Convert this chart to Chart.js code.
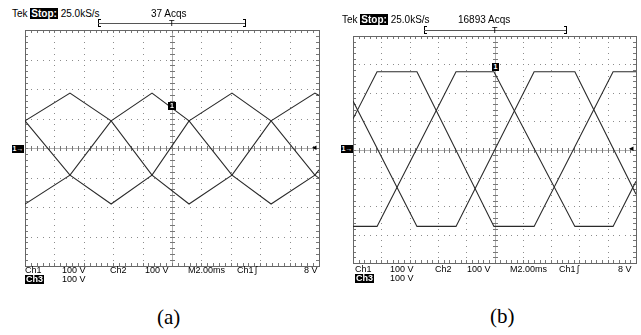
<!DOCTYPE html>
<html>
<head>
<meta charset="utf-8">
<script src="https://cdn.jsdelivr.net/npm/chart.js@4/dist/chart.umd.min.js"></script>
<style>
  html,body{margin:0;padding:0;background:#fff;}
  #wrap{position:relative;width:641px;height:335px;overflow:hidden;background:#fff;}
  canvas{position:absolute;}
  .t{position:absolute;font-family:"Liberation Sans",Arial,sans-serif;font-size:10px;line-height:10px;color:#000;white-space:pre;}
  .s{font-size:9px;line-height:9px;}
  .inv{background:#000;color:#fff;font-weight:bold;padding:0 1px;}
  .cap{position:absolute;font-family:"Liberation Serif","Times New Roman",serif;font-size:21px;line-height:21px;color:#000;}
  .ln{position:absolute;background:#000;}
  .mk{position:absolute;background:#000;color:#fff;font-family:"Liberation Sans",Arial,sans-serif;font-size:7px;line-height:8px;font-weight:bold;text-align:center;}
</style>
</head>
<body>
<div id="wrap">
  <canvas id="ca" width="304" height="246" style="left:20px;top:25px"></canvas>
  <canvas id="cb" width="293" height="237" style="left:348px;top:31px"></canvas>

  <!-- panel (a) header -->
  <div class="t" style="left:12px;top:9px">Tek <span class="inv">Stop:</span> 25.0kS/s</div>
  <div class="t" style="left:151px;top:9px">37 Acqs</div>
  <div class="ln" style="left:98px;top:19px;width:1px;height:8px"></div>
  <div class="ln" style="left:98px;top:19px;width:3px;height:1px"></div>
  <div class="ln" style="left:98px;top:26px;width:3px;height:1px"></div>
  <div class="ln" style="left:98px;top:23px;width:148px;height:1px;background:#555"></div>
  <div class="ln" style="left:245px;top:19px;width:1px;height:8px"></div>
  <div class="ln" style="left:243px;top:19px;width:3px;height:1px"></div>
  <div class="ln" style="left:243px;top:26px;width:3px;height:1px"></div>
  <div class="t s" style="left:169px;top:19px">T</div>

  <!-- panel (a) footer -->
  <div class="t s" style="left:25px;top:266px">Ch1</div>
  <div class="t s" style="left:62px;top:266px">100 V</div>
  <div class="t s" style="left:110px;top:266px">Ch2</div>
  <div class="t s" style="left:145px;top:266px">100 V</div>
  <div class="t s" style="left:188px;top:266px">M2.00ms</div>
  <div class="t s" style="left:237px;top:266px">Ch1</div>
  <div class="t s" style="left:255px;top:266px">ʃ</div>
  <div class="t s" style="left:304px;top:266px">8 V</div>
  <div class="t s inv" style="left:25px;top:275px">Ch3</div>
  <div class="t s" style="left:62px;top:275px">100 V</div>
  <div class="cap" style="left:157px;top:307px">(a)</div>

  <!-- panel (a) markers -->
  <div class="mk" style="left:12px;top:145px;width:12px;height:8px">1→</div>
  <div class="mk" style="left:168px;top:102px;width:8px;height:8px">1</div>
  <div class="t s" style="left:312px;top:143px">◂</div>

  <!-- panel (b) header -->
  <div class="t" style="left:342px;top:15px">Tek <span class="inv">Stop:</span> 25.0kS/s</div>
  <div class="t" style="left:458px;top:15px">16893 Acqs</div>
  <div class="ln" style="left:424px;top:26px;width:1px;height:8px"></div>
  <div class="ln" style="left:424px;top:26px;width:3px;height:1px"></div>
  <div class="ln" style="left:424px;top:33px;width:3px;height:1px"></div>
  <div class="ln" style="left:424px;top:30px;width:143px;height:1px;background:#555"></div>
  <div class="ln" style="left:566px;top:26px;width:1px;height:8px"></div>
  <div class="ln" style="left:564px;top:26px;width:3px;height:1px"></div>
  <div class="ln" style="left:564px;top:33px;width:3px;height:1px"></div>
  <div class="t s" style="left:492px;top:26px">T</div>

  <!-- panel (b) footer -->
  <div class="t s" style="left:355px;top:265px">Ch1</div>
  <div class="t s" style="left:390px;top:265px">100 V</div>
  <div class="t s" style="left:435px;top:265px">Ch2</div>
  <div class="t s" style="left:467px;top:265px">100 V</div>
  <div class="t s" style="left:510px;top:265px">M2.00ms</div>
  <div class="t s" style="left:559px;top:265px">Ch1</div>
  <div class="t s" style="left:577px;top:265px">ʃ</div>
  <div class="t s" style="left:618px;top:265px">8 V</div>
  <div class="t s inv" style="left:355px;top:274px">Ch3</div>
  <div class="t s" style="left:390px;top:274px">100 V</div>
  <div class="cap" style="left:490px;top:306px">(b)</div>

  <!-- panel (b) markers -->
  <div class="mk" style="left:341px;top:145px;width:12px;height:8px">1→</div>
  <div class="mk" style="left:492px;top:63px;width:7px;height:8px">1</div>
  <div class="t s" style="left:629px;top:144px">◂</div>
</div>

<script>
// ---- graticule (time in ms, 2 ms/div; voltage in V, 100 V/div) ----
const timeTicksMs = [0, 2, 4, 6, 8, 10, 12, 14, 16, 18, 20];
const voltTicksV  = [-400, -300, -200, -100, 0, 100, 200, 300, 400];

// ---- panel (a): three triangular phase voltages ----
const timeA  = [0, 3.06, 5.86, 8.64, 11.16, 14.08, 16.74, 19.72, 20];
const voltA1 = [92, 186, 92, -92, -190, -92, 92, 186, 178];
const voltA2 = [92, -92, -190, -92, 92, 186, 92, -92, -102];
const voltA3 = [-190, -92, 92, 186, 92, -92, -190, -92, -74];

// ---- panel (b): three trapezoidal phase voltages ----
const timeB1 = [0, 1.70, 4.52, 9.96, 12.80, 18.38, 20];
const voltB1 = [108, 274, 274, -271, -271, 274, 274];
const timeB2 = [0, 1.70, 7.28, 9.96, 15.68, 18.38, 20];
const voltB2 = [-271, -271, 274, 274, -271, -271, -112];
const timeB3 = [0, 4.52, 7.28, 12.80, 15.68, 20];
const voltB3 = [171, -271, -271, 274, 274, -158];

const pts = (xs, ys) => xs.map((x, i) => ({x, y: ys[i]}));

const scopeGrid = {
  id: 'scopeGrid',
  beforeDatasetsDraw(chart) {
    const {ctx, chartArea: a, scales: {x, y}} = chart;
    const xMin = timeTicksMs[0], xMax = timeTicksMs[timeTicksMs.length - 1];
    const yMin = voltTicksV[0], yMax = voltTicksV[voltTicksV.length - 1];
    const xStep = (timeTicksMs[1] - timeTicksMs[0]) / 5;
    const yStep = (voltTicksV[1] - voltTicksV[0]) / 5;
    const xMid = (xMin + xMax) / 2, yMid = (yMin + yMax) / 2;
    const px = v => Math.round(x.getPixelForValue(v));
    const py = v => Math.round(y.getPixelForValue(v));
    ctx.save();
    ctx.fillStyle = '#8c8c8c';
    timeTicksMs.slice(1, -1).forEach(t => {
      if (t === xMid) return;
      for (let v = yMin; v <= yMax + 1e-6; v += yStep) ctx.fillRect(px(t), py(v), 1, 1);
    });
    voltTicksV.slice(1, -1).forEach(v => {
      if (v === yMid) return;
      for (let t = xMin; t <= xMax + 1e-6; t += xStep) ctx.fillRect(px(t), py(v), 1, 1);
    });
    ctx.fillStyle = '#b0b0b0';
    ctx.fillRect(px(xMid), a.top, 1, a.bottom - a.top);
    ctx.fillRect(a.left, py(yMid), a.right - a.left, 1);
    ctx.fillStyle = '#777';
    for (let t = xMin; t <= xMax + 1e-6; t += xStep) {
      ctx.fillRect(px(t), py(yMid) - 2, 1, 5);
      ctx.fillRect(px(t), a.top, 1, 3);
      ctx.fillRect(px(t), a.bottom - 3, 1, 3);
    }
    for (let v = yMin; v <= yMax + 1e-6; v += yStep) {
      ctx.fillRect(px(xMid) - 2, py(v), 5, 1);
      ctx.fillRect(a.left, py(v), 3, 1);
      ctx.fillRect(a.right - 3, py(v), 3, 1);
    }
    ctx.strokeStyle = '#666';
    ctx.lineWidth = 1;
    ctx.strokeRect(Math.round(a.left) + 0.5, Math.round(a.top) + 0.5,
                   Math.round(a.right - a.left), Math.round(a.bottom - a.top));
    ctx.restore();
  }
};

function makeScope(id, series) {
  new Chart(document.getElementById(id), {
    type: 'scatter',
    data: {
      datasets: series.map(d => ({
        data: d, showLine: true, borderColor: '#2a2a2a', borderWidth: 1.1,
        pointRadius: 0, tension: 0, fill: false
      }))
    },
    options: {
      responsive: false, animation: false, devicePixelRatio: 1,
      layout: {padding: 5},
      plugins: {legend: {display: false}, tooltip: {enabled: false}},
      scales: {
        x: {type: 'linear', display: false, min: timeTicksMs[0], max: timeTicksMs[timeTicksMs.length - 1]},
        y: {type: 'linear', display: false, min: voltTicksV[0], max: voltTicksV[voltTicksV.length - 1]}
      }
    },
    plugins: [scopeGrid]
  });
}

makeScope('ca', [pts(timeA, voltA1), pts(timeA, voltA2), pts(timeA, voltA3)]);
makeScope('cb', [pts(timeB1, voltB1), pts(timeB2, voltB2), pts(timeB3, voltB3)]);
</script>
</body>
</html>
